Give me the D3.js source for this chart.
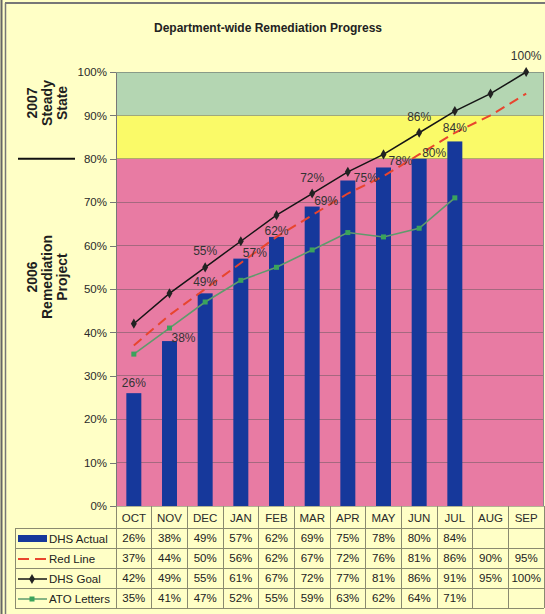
<!DOCTYPE html>
<html lang='en'>

<head>
    <meta charset='UTF-8'>
    <title>Department-wide Remediation Progress</title>

    <script src='https://cdn.jsdelivr.net/npm/d3@7'></script>

    <style>
        body {
            margin: 0;
            background: #fff;
            font-family: 'Liberation Sans', Arial, Helvetica, sans-serif;
        }

        text {
            fill: #222;
        }

        .y-axis text,
        .x-axis text {
            font-size: 11.5px;
            fill: #2a2a2a;
        }

        .y-axis line,
        .y-axis path {
            stroke: #777;
            shape-rendering: crispEdges;
        }

        .x-axis path,
        .x-axis line {
            stroke: none;
        }

        .grid line {
            stroke: #555;
            stroke-opacity: 0.45;
            shape-rendering: crispEdges;
        }

        .table line {
            stroke: #8a8a70;
            stroke-width: 1;
            shape-rendering: crispEdges;
        }

        .cell {
            font-size: 11.5px;
            text-anchor: middle;
        }

        .legend-label {
            font-size: 11.5px;
        }

        .label {
            font-size: 12px;
            text-anchor: middle;
            fill: #333;
        }

        .side {
            font-size: 14px;
            font-weight: bold;
            text-anchor: middle;
            fill: #1e1e1e;
        }
    </style>
</head>

<body>
    <script>
        // Data
        const months = ['OCT', 'NOV', 'DEC', 'JAN', 'FEB', 'MAR', 'APR', 'MAY', 'JUN', 'JUL', 'AUG', 'SEP'];
        const dhsActual = [26, 38, 49, 57, 62, 69, 75, 78, 80, 84];
        const redLine = [37, 44, 50, 56, 62, 67, 72, 76, 81, 86, 90, 95];
        const dhsGoal = [42, 49, 55, 61, 67, 72, 77, 81, 86, 91, 95, 100];
        const atoLetters = [35, 41, 47, 52, 55, 59, 63, 62, 64, 71];
        const yTicks = [0, 10, 20, 30, 40, 50, 60, 70, 80, 90, 100];
        const zoneEdges = [0, 80, 90, 100];
        const goalLabelMonths = ['DEC', 'MAR', 'JUN', 'SEP'];

        /**
         * ===================================================
         * Layout
         * ===================================================
        */
        const W = 545, H = 614;
        const plot = { left: 116, right: 544, top: 72, bottom: 506 };
        const rowH = 20;
        const tableTop = 528;
        const legendLeft = 15;

        const zoneColors = ['#e87ba3', '#fafa68', '#b4d6b2'];
        const colors = { bar: '#16389b', red: '#e8452e', goal: '#151515', ato: '#5e9b6c', atoMark: '#3aa35c' };

        // Excel-style nudges of the bar labels
        const actualLabelDx = [0, 14, 0, 14, 0, 14, 18, 17, 15, 0];
        const actualLabelDy = [-6, 1, -7, -2, -2, -2, 1, -2, -2, -9];

        const svg = d3.select('body')
            .append('svg')
            .attr('width', W)
            .attr('height', H);

        const xScale = d3.scaleBand()
            .domain(months)
            .range([plot.left, plot.right]);

        const yScale = d3.scaleLinear()
            .domain([0, 100])
            .range([plot.bottom, plot.top]);

        const cx = m => xScale(m) + xScale.bandwidth() / 2;

        /**
         * ===================================================
         * Frame & background
         * ===================================================
        */
        svg.append('rect')
            .attr('x', 0).attr('y', 0)
            .attr('width', W).attr('height', H)
            .attr('fill', '#ffffc6');

        svg.append('line')
            .attr('x1', 1.5).attr('x2', 1.5).attr('y1', 0).attr('y2', H)
            .attr('stroke', '#666').attr('stroke-width', 2);
        svg.append('line')
            .attr('x1', 5.5).attr('x2', 5.5).attr('y1', 3).attr('y2', H)
            .attr('stroke', '#777').attr('stroke-width', 1.5);
        svg.append('line')
            .attr('x1', 5).attr('x2', W).attr('y1', 3).attr('y2', 3)
            .attr('stroke', '#777').attr('stroke-width', 2);

        svg.append('text')
            .attr('x', 268)
            .attr('y', 32)
            .attr('text-anchor', 'middle')
            .style('font-size', '12px')
            .style('font-weight', 'bold')
            .text('Department-wide Remediation Progress');

        // Coloured zones
        svg.append('g')
            .selectAll('rect')
            .data(d3.pairs(zoneEdges))
            .join('rect')
            .attr('x', plot.left)
            .attr('width', plot.right - plot.left)
            .attr('y', d => yScale(d[1]))
            .attr('height', d => yScale(d[0]) - yScale(d[1]))
            .attr('fill', (d, i) => zoneColors[i]);

        // Grid
        svg.append('g')
            .attr('class', 'grid')
            .selectAll('line')
            .data(yTicks)
            .join('line')
            .attr('x1', plot.left)
            .attr('x2', plot.right)
            .attr('y1', d => yScale(d))
            .attr('y2', d => yScale(d));

        svg.append('line')
            .attr('x1', plot.right - 0.5).attr('x2', plot.right - 0.5)
            .attr('y1', plot.top).attr('y2', plot.bottom)
            .attr('stroke', '#888');

        /**
         * ===================================================
         * Axes
         * ===================================================
        */
        svg.append('g')
            .attr('class', 'y-axis')
            .attr('transform', `translate(${plot.left}, 0)`)
            .call(d3.axisLeft(yScale)
                .tickValues(yTicks)
                .tickFormat(d => d + '%')
                .tickSize(6)
                .tickSizeOuter(0)
                .tickPadding(3));

        svg.append('g')
            .attr('class', 'x-axis')
            .attr('transform', `translate(0, ${plot.bottom})`)
            .call(d3.axisBottom(xScale).tickSize(0).tickPadding(8));

        /**
         * ===================================================
         * Bars & lines
         * ===================================================
        */
        const barW = xScale.bandwidth() * 0.42;
        const actualData = dhsActual.map((v, i) => ({ m: months[i], v }));

        svg.append('g')
            .selectAll('rect')
            .data(actualData)
            .join('rect')
            .attr('x', d => cx(d.m) - barW / 2)
            .attr('width', barW)
            .attr('y', d => yScale(d.v))
            .attr('height', d => yScale(0) - yScale(d.v))
            .attr('fill', colors.bar);

        const line = d3.line()
            .x(d => cx(d.m))
            .y(d => yScale(d.v));

        const toPoints = arr => arr.map((v, i) => ({ m: months[i], v }));

        svg.append('path')
            .datum(toPoints(atoLetters))
            .attr('d', line)
            .attr('fill', 'none')
            .attr('stroke', colors.ato)
            .attr('stroke-width', 1.6);

        svg.append('g')
            .selectAll('rect')
            .data(toPoints(atoLetters))
            .join('rect')
            .attr('x', d => cx(d.m) - 2.5)
            .attr('y', d => yScale(d.v) - 2.5)
            .attr('width', 5).attr('height', 5)
            .attr('fill', colors.atoMark);

        svg.append('path')
            .datum(toPoints(redLine))
            .attr('d', line)
            .attr('fill', 'none')
            .attr('stroke', colors.red)
            .attr('stroke-width', 2)
            .attr('stroke-dasharray', '10,6');

        svg.append('path')
            .datum(toPoints(dhsGoal))
            .attr('d', line)
            .attr('fill', 'none')
            .attr('stroke', colors.goal)
            .attr('stroke-width', 1.5);

        const diamond = d3.symbol().type(d3.symbolDiamond).size(30);

        svg.append('g')
            .selectAll('path')
            .data(toPoints(dhsGoal))
            .join('path')
            .attr('transform', d => `translate(${cx(d.m)}, ${yScale(d.v)})`)
            .attr('d', diamond)
            .attr('fill', '#222');

        // Value labels
        svg.append('g')
            .selectAll('text')
            .data(actualData)
            .join('text')
            .attr('class', 'label')
            .attr('x', (d, i) => cx(d.m) + actualLabelDx[i])
            .attr('y', (d, i) => yScale(d.v) + actualLabelDy[i])
            .text(d => d.v + '%');

        svg.append('g')
            .selectAll('text')
            .data(toPoints(dhsGoal).filter(d => goalLabelMonths.includes(d.m)))
            .join('text')
            .attr('class', 'label')
            .attr('x', d => cx(d.m))
            .attr('y', d => yScale(d.v) - 12)
            .text(d => d.v + '%');

        /**
         * ===================================================
         * Side notes
         * ===================================================
        */
        const sideNote = (lines, cy) => {
            lines.forEach((t, i) => {
                svg.append('text')
                    .attr('class', 'side')
                    .attr('transform', `translate(${37 + i * 15}, ${cy}) rotate(-90)`)
                    .text(t);
            });
        };
        sideNote(['2007', 'Steady', 'State'], 103);
        sideNote(['2006', 'Remediation', 'Project'], 277);

        svg.append('line')
            .attr('x1', 18).attr('x2', 75)
            .attr('y1', yScale(80)).attr('y2', yScale(80))
            .attr('stroke', '#111').attr('stroke-width', 2);

        /**
         * ===================================================
         * Data table
         * ===================================================
        */
        const series = [
            { name: 'DHS Actual', values: dhsActual, kind: 'bar' },
            { name: 'Red Line', values: redLine, kind: 'dash' },
            { name: 'DHS Goal', values: dhsGoal, kind: 'goal' },
            { name: 'ATO Letters', values: atoLetters, kind: 'ato' }
        ];

        const table = svg.append('g').attr('class', 'table');
        const tableBottom = tableTop + rowH * series.length;

        // Horizontal rules
        d3.range(series.length + 1).forEach(i => {
            table.append('line')
                .attr('x1', legendLeft).attr('x2', plot.right)
                .attr('y1', tableTop + i * rowH).attr('y2', tableTop + i * rowH);
        });
        // Vertical rules
        table.append('line')
            .attr('x1', legendLeft).attr('x2', legendLeft)
            .attr('y1', tableTop).attr('y2', tableBottom);
        months.concat([null]).forEach(m => {
            const x = m ? xScale(m) : plot.right;
            table.append('line')
                .attr('x1', x).attr('x2', x)
                .attr('y1', plot.bottom).attr('y2', tableBottom);
        });

        series.forEach((s, r) => {
            const cyRow = tableTop + r * rowH + rowH / 2;

            s.values.forEach((v, i) => {
                table.append('text')
                    .attr('class', 'cell')
                    .attr('x', cx(months[i]))
                    .attr('y', cyRow + 4)
                    .text(v + '%');
            });

            const lg = table.append('g');
            if (s.kind === 'bar') {
                lg.append('rect')
                    .attr('x', 18).attr('y', cyRow - 3)
                    .attr('width', 29).attr('height', 7)
                    .attr('fill', colors.bar);
            } else if (s.kind === 'dash') {
                lg.append('path')
                    .attr('d', `M18,${cyRow + 1}H47`)
                    .attr('stroke', colors.red)
                    .attr('stroke-width', 2)
                    .attr('stroke-dasharray', '11,6');
            } else if (s.kind === 'goal') {
                lg.append('path')
                    .attr('d', `M18,${cyRow + 1}H47`)
                    .attr('stroke', colors.goal)
                    .attr('stroke-width', 1.5);
                lg.append('path')
                    .attr('transform', `translate(32, ${cyRow + 1})`)
                    .attr('d', diamond)
                    .attr('fill', '#222');
            } else {
                lg.append('path')
                    .attr('d', `M18,${cyRow + 1}H47`)
                    .attr('stroke', colors.ato)
                    .attr('stroke-width', 1.5);
                lg.append('rect')
                    .attr('x', 29.5).attr('y', cyRow - 1.5)
                    .attr('width', 5).attr('height', 5)
                    .attr('fill', colors.atoMark);
            }

            table.append('text')
                .attr('class', 'legend-label')
                .attr('x', 49)
                .attr('y', cyRow + 5)
                .text(s.name);
        });
    </script>
</body>

</html>
